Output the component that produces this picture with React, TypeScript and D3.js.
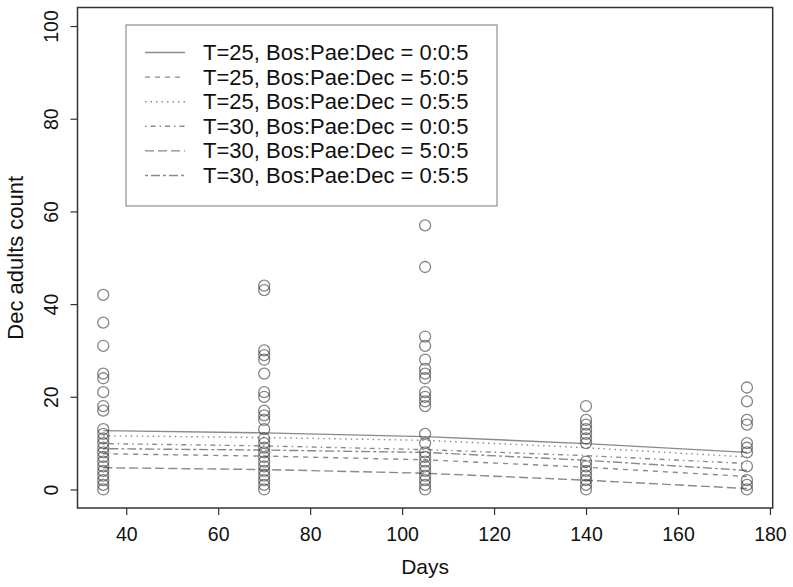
import React, { useEffect, useRef } from "react";
import * as d3 from "d3";

// observed counts per sampling day
const days = [35, 70, 105, 140, 175];
const counts35 = [42, 36, 31, 25, 24, 21, 18, 17, 13, 12, 11, 10, 9, 8, 7, 6, 5, 4, 3, 2, 1, 0];
const counts70 = [44, 43, 30, 29, 28, 25, 21, 20, 17, 16, 15, 13, 11, 10, 9, 8, 7, 6, 5, 4, 3, 2, 1, 0];
const counts105 = [57, 48, 33, 31, 28, 26, 25, 24, 21, 20, 19, 18, 12, 10, 8, 7, 6, 5, 4, 3, 2, 1, 0];
const counts140 = [18, 15, 14, 13, 12, 11, 10, 6, 5, 4, 3, 2, 1, 0];
const counts175 = [22, 19, 15, 14, 10, 9, 8, 5, 2, 1, 0];
const allCounts = [counts35, counts70, counts105, counts140, counts175];

// fitted curves, one per treatment
const legendLabels = [
  "T=25, Bos:Pae:Dec = 0:0:5",
  "T=25, Bos:Pae:Dec = 5:0:5",
  "T=25, Bos:Pae:Dec = 0:5:5",
  "T=30, Bos:Pae:Dec = 0:0:5",
  "T=30, Bos:Pae:Dec = 5:0:5",
  "T=30, Bos:Pae:Dec = 0:5:5",
];
const fit25_005 = [12.7, 12.2, 11.4, 9.9, 8.0];
const fit25_505 = [7.7, 7.2, 6.4, 4.8, 2.8];
const fit25_055 = [11.6, 11.2, 10.6, 9.0, 7.0];
const fit30_005 = [9.9, 9.4, 8.6, 7.3, 5.6];
const fit30_505 = [4.7, 4.3, 3.5, 2.0, 0.2];
const fit30_055 = [8.8, 8.5, 8.0, 6.3, 4.1];
const fits = [fit25_005, fit25_505, fit25_055, fit30_005, fit30_505, fit30_055];

const xTicks = [40, 60, 80, 100, 120, 140, 160, 180];
const yTicks = [0, 20, 40, 60, 80, 100];

// R lty 1..6
const dashes = ["none", "5 5", "1.5 4", "1.5 4 5 4", "9 4", "3 3 9 3"];

export default function App() {
  const ref = useRef<SVGSVGElement>(null);
  const width = 793, height = 587;
  const left = 77.5, right = 772.7, top = 7.5, bottom = 508;

  useEffect(() => {
    const svg = d3.select(ref.current);
    svg.selectAll("*").remove();

    const x = d3.scaleLinear([29.4, 180.6], [left, right]);
    const y = d3.scaleLinear([-4, 104], [bottom, top]);
    const font = "Liberation Sans, Arial, sans-serif";

    // fitted lines
    const line = d3.line<number>().x((d, i) => x(days[i])).y((d) => y(d));
    fits.forEach((f, i) => {
      svg.append("path")
        .attr("d", line(f))
        .attr("fill", "none")
        .attr("stroke", "#8a8a8a")
        .attr("stroke-width", 1.4)
        .attr("stroke-dasharray", dashes[i]);
    });

    // points
    allCounts.forEach((c, i) => {
      svg.append("g").selectAll("circle")
        .data(c)
        .join("circle")
        .attr("cx", x(days[i]))
        .attr("cy", (d) => y(d))
        .attr("r", 5.5)
        .attr("fill", "none")
        .attr("stroke", "#333")
        .attr("stroke-opacity", 0.6)
        .attr("stroke-width", 1.3);
    });

    // frame
    svg.append("rect")
      .attr("x", left).attr("y", top)
      .attr("width", right - left).attr("height", bottom - top)
      .attr("fill", "none").attr("stroke", "#333").attr("stroke-width", 1.5);

    // x axis
    const gx = svg.append("g").attr("transform", `translate(0,${bottom})`);
    gx.call(d3.axisBottom(x).tickValues(xTicks).tickSize(7).tickPadding(10));
    gx.select(".domain").remove();
    gx.selectAll(".tick line").attr("stroke", "#333").attr("stroke-width", 1.2);
    gx.selectAll(".tick text")
      .attr("y", 33).attr("dy", 0)
      .style("font-family", font).style("font-size", "19.5px").attr("fill", "#111");

    // y axis
    const gy = svg.append("g").attr("transform", `translate(${left},0)`);
    gy.call(d3.axisLeft(y).tickValues(yTicks).tickSize(7).tickFormat(d3.format("d")));
    gy.select(".domain").remove();
    gy.selectAll(".tick line").attr("stroke", "#333").attr("stroke-width", 1.2);
    gy.selectAll(".tick text")
      .attr("x", 0).attr("dy", 0)
      .attr("transform", "translate(-27,0) rotate(-90)")
      .attr("text-anchor", "middle")
      .attr("dominant-baseline", "central")
      .style("font-family", font).style("font-size", "19.5px").attr("fill", "#111");

    // axis titles
    svg.append("text")
      .attr("x", (left + right) / 2).attr("y", 574)
      .attr("text-anchor", "middle")
      .style("font-family", font).style("font-size", "21px").attr("fill", "#111")
      .text("Days");
    svg.append("text")
      .attr("transform", `translate(23,${(top + bottom) / 2}) rotate(-90)`)
      .attr("text-anchor", "middle")
      .style("font-family", font).style("font-size", "22px").attr("fill", "#111")
      .text("Dec adults count");

    // legend
    const lg = svg.append("g");
    lg.append("rect")
      .attr("x", 126).attr("y", 25).attr("width", 371).attr("height", 181)
      .attr("fill", "white").attr("stroke", "#999").attr("stroke-width", 1.3);
    legendLabels.forEach((lab, i) => {
      const yy = 52.5 + i * 24.6;
      lg.append("line")
        .attr("x1", 145).attr("x2", 185).attr("y1", yy).attr("y2", yy)
        .attr("stroke", "#8a8a8a").attr("stroke-width", 1.4)
        .attr("stroke-dasharray", dashes[i]);
      lg.append("text")
        .attr("x", 203).attr("y", yy).attr("dominant-baseline", "central")
        .style("font-family", font).style("font-size", "22px").attr("fill", "#111")
        .text(lab);
    });
  }, []);

  return <svg ref={ref} width={width} height={height} style={{ position: "absolute", left: 0, top: 0 }} />;
}
